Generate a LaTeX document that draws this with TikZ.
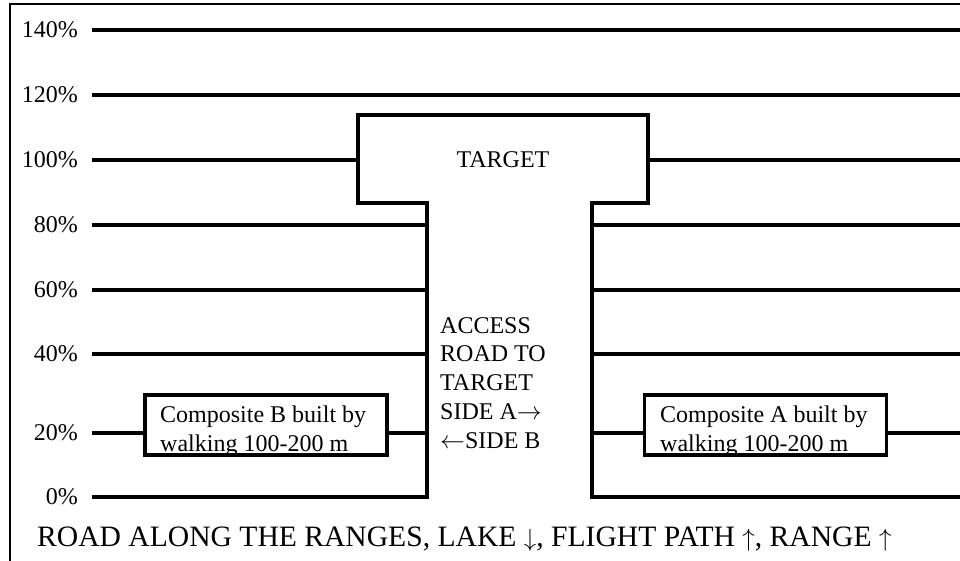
\documentclass[tikz,border=0pt]{standalone}
\usepackage{fontspec}
\setmainfont{Liberation Serif}
\begin{document}
\begin{tikzpicture}[x=1pt,y=-1pt,
  rule/.style={line width=3.5pt},
  frame/.style={line width=1.6pt},
  pct/.style={anchor=east,font=\fontsize{24}{28}\selectfont,inner sep=0pt},
  compbox/.style={draw,line width=3.5pt,minimum width=242pt,minimum height=60pt,inner sep=0pt},
  comptext/.style={anchor=base west,align=left,inner sep=0pt,font=\fontsize{24}{29}\selectfont},
  lbl/.style={inner sep=0pt,font=\fontsize{24}{28.7}\selectfont}
  ]
\useasboundingbox (0,0) rectangle (960,561);
% frame
\coordinate (fbl) at (10,561);
\coordinate (ftl) at (10,4);
\coordinate (ftr) at (960,4);
\draw[frame] (fbl) -- (ftl) -- (ftr);

% percent labels
\node[pct] (p140) at (78,30) {140\%};
\node[pct] (p120) at (78,95) {120\%};
\node[pct] (p100) at (78,160) {100\%};
\node[pct] (p80) at (78,225) {80\%};
\node[pct] (p60) at (78,290) {60\%};
\node[pct] (p40) at (78,354) {40\%};
\node[pct] (p20) at (78,433) {20\%};
\node[pct] (p0) at (78,497) {0\%};

% line start / end coordinates
\foreach \n/\y in {140/30,120/95,100/160,80/225,60/290,40/354,20/433,0/497}{
  \coordinate (L\n) at (92,\y);
  \coordinate (R\n) at (960,\y);
}
% T outline
\coordinate (sl) at (427,497);
\coordinate (sr) at (592,497);
\coordinate (tbl) at (358,203);
\coordinate (ttl) at (358,115);
\coordinate (ttr) at (648,115);
\coordinate (tbr) at (648,203);
\coordinate (sl80) at (427,225);
\coordinate (sl60) at (427,290);
\coordinate (sl40) at (427,354);
\coordinate (sl20) at (427,433);
\coordinate (sr80) at (592,225);
\coordinate (sr60) at (592,290);
\coordinate (sr40) at (592,354);
\coordinate (sr20) at (592,433);
\coordinate (tl100) at (358,160);
\coordinate (tr100) at (648,160);

\draw[rule] (L140) -- (R140);
\draw[rule] (L120) -- (R120);
\draw[rule] (L100) -- (tl100);
\draw[rule] (tr100) -- (R100);
\draw[rule] (L80) -- (sl80);
\draw[rule] (sr80) -- (R80);
\draw[rule] (L60) -- (sl60);
\draw[rule] (sr60) -- (R60);
\draw[rule] (L40) -- (sl40);
\draw[rule] (sr40) -- (R40);
\draw[rule,line join=miter] (L0) -- (sl) -- (427,203) -- (tbl) -- (ttl) -- (ttr) -- (tbr) -- (592,203) -- (sr) -- (R0);

\node[lbl] (target) at (503,160) {TARGET};

% composite boxes
\node[compbox] (cb) at (266,425) {};
\node[compbox] (ca) at (765.5,425) {};
\begin{scope}
  \clip (cb.south west) rectangle (cb.north east);
  \node[comptext] (cbt) at (160,451) {Composite B built by\\walking 100-200 m};
\end{scope}
\begin{scope}
  \clip (ca.south west) rectangle (ca.north east);
  \node[comptext] (cat) at (660,451) {Composite A built by\\walking 100-200 m};
\end{scope}
\node[compbox] at (cb) {};
\node[compbox] at (ca) {};
\draw[rule] (L20) -- (L20 -| cb.west);
\draw[rule] (L20 -| cb.east) -- (sl20);
\draw[rule] (sr20) -- (L20 -| ca.west);
\draw[rule] (L20 -| ca.east) -- (R20);

% access road text
\node[lbl,anchor=base west,align=left] (access) at (440,448)
  {ACCESS\\ROAD TO\\TARGET\\SIDE A$\rightarrow$\\$\leftarrow$SIDE B};

% bottom caption
\node[inner sep=0pt,anchor=base west,font=\fontsize{29.6}{34}\selectfont] (road) at (37,546)
  {ROAD ALONG THE RANGES, LAKE $\downarrow$, FLIGHT PATH $\uparrow$, RANGE $\uparrow$};
\end{tikzpicture}
\end{document}
